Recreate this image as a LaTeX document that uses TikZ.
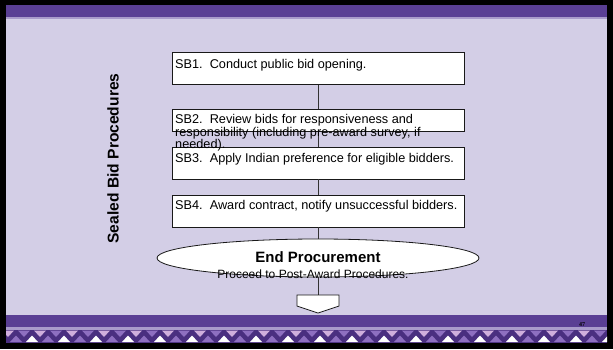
\documentclass[tikz,border=0pt]{standalone}
\usepackage{fontspec}
\setmainfont{Liberation Sans}
\newfontfamily\serifnum{Liberation Serif}
\usetikzlibrary{shapes.geometric}
\definecolor{bgc}{HTML}{D3CEE6}
\definecolor{barc}{HTML}{5A3F94}
\definecolor{barline}{HTML}{A99BCB}
\definecolor{zdark}{HTML}{4A2F80}
\definecolor{zmid}{HTML}{8E6FC0}
\definecolor{zpink}{HTML}{CFAEDC}
\begin{document}
\begin{tikzpicture}[x=1pt,y=-1pt,
  sbbox/.style={draw=black!90, fill=white, line width=0.9pt, minimum width=292pt, inner sep=0pt, rectangle},
  sbtext/.style={inner sep=0pt, font=\fontsize{12.7}{11.6}\selectfont, align=left},
  conn/.style={draw=black!80, line width=0.8pt},
  endbox/.style={ellipse, draw=black!90, fill=white, line width=0.8pt, minimum width=322pt, minimum height=38pt, inner sep=0pt}]
\useasboundingbox (0,0) rectangle (613,349);
% frame and background
\fill[black] (0,0) rectangle (613,349);
\fill[bgc] (6,5) rectangle (607,343);
\fill[barc] (6,5) rectangle (607,17);
\fill[barline] (6,17) rectangle (607,18.5);
\fill[barc] (6,315) rectangle (607,327);
\fill[barline] (6,327) rectangle (607,329.5);
\fill[zdark] (6,329.5) rectangle (607,343);
\begin{scope}
\clip (6,329.5) rectangle (607,342);
\foreach \x in {0,32,...,640}{
  \fill[white] (\x-6,342) -- (\x,335.5) -- (\x+6,342) -- cycle;
  \fill[zmid] (\x+10,342) -- (\x+16,335.5) -- (\x+22,342) -- cycle;
  \fill[zpink] (\x+2,330.5) -- (\x+8,337) -- (\x+14,330.5) -- cycle;
  \fill[zmid] (\x+18,330.5) -- (\x+24,337) -- (\x+30,330.5) -- cycle;
}
\end{scope}
\node[font=\serifnum\bfseries\fontsize{6}{7}\selectfont, inner sep=0pt] (pg) at (582,324.5) {47};
% title
\node[rotate=90, font=\fontsize{15.6}{18}\selectfont\bfseries, inner sep=0pt] (title) at (113,158.5) {Sealed Bid Procedures};
% boxes
\node[sbbox, minimum height=31.5pt] (sb1) at (318,68.5) {};
\node[sbbox, minimum height=22.5pt] (sb2) at (318,120.5) {};
\node[sbbox, minimum height=32pt] (sb3) at (318,163) {};
\node[sbbox, minimum height=32pt] (sb4) at (318,211) {};
\node[endbox] (endp) at (318,258) {};
\coordinate (pent) at (318,295);
\draw[conn] (sb1.south) -- (sb2.north);
\draw[conn] (sb2.south) -- (sb3.north);
\draw[conn] (sb3.south) -- (sb4.north);
\draw[conn] (sb4.south) -- (endp.north);
\draw[conn] (endp.south) -- (pent);
\draw[draw=black!90, fill=white, line width=0.8pt] (297,295) -- (339,295) -- (339,306) -- (318,313) -- (297,306) -- cycle;
% texts
\node[sbtext, anchor=base west] (t1) at (175,68) {SB1.\ \ Conduct public bid opening.};
\node[sbtext, anchor=north west] (t2) at (175,113.5) {\rule{0pt}{9.5pt}SB2.\ \ Review bids for responsiveness and\\responsibility (including pre-award survey, if\\needed).};
\node[sbtext, anchor=base west] (t3) at (175,162) {SB3.\ \ Apply Indian preference for eligible bidders.};
\node[sbtext, anchor=base west] (t4) at (175,209) {SB4.\ \ Award contract, notify unsuccessful bidders.};
\node[inner sep=0pt, anchor=base, font=\fontsize{15}{18}\selectfont\bfseries] (t5) at (318,262.3) {End Procurement};
\node[inner sep=0pt, anchor=base, font=\fontsize{12}{14}\selectfont] (t6) at (313,278) {Proceed to Post-Award Procedures.};
\end{tikzpicture}
\end{document}
